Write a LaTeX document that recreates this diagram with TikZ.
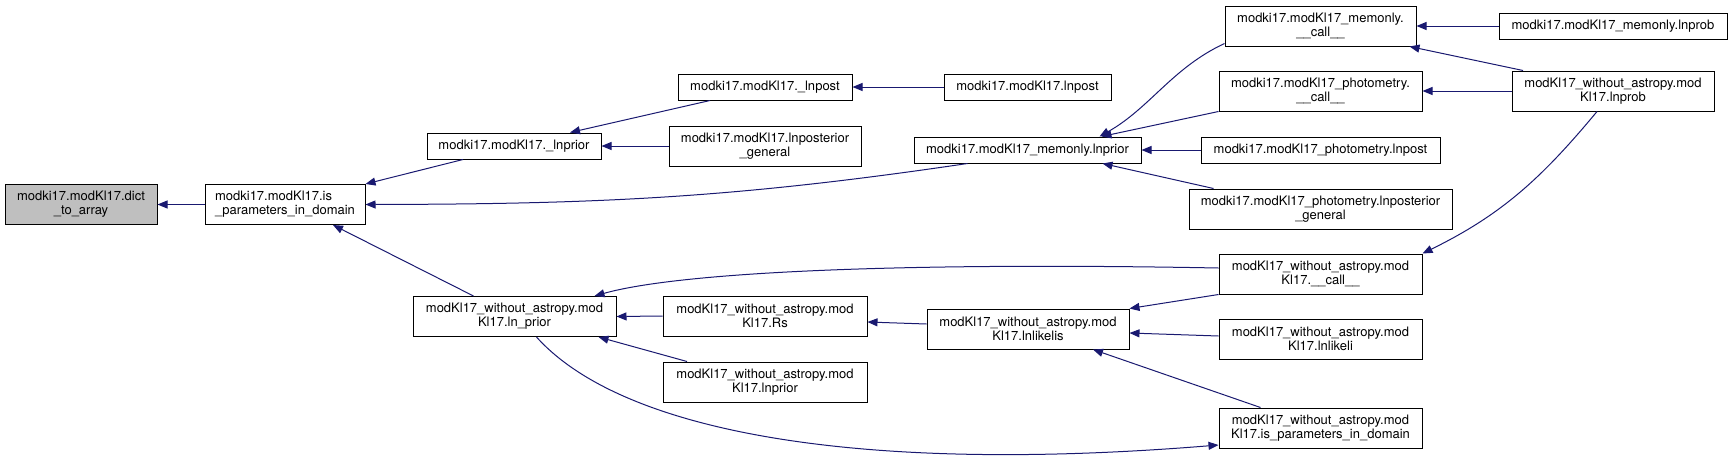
\documentclass[tikz,border=0pt]{standalone}
\usepackage{fontspec}
\setmainfont{TeX Gyre Heros}
\usepackage{tikz}
\usetikzlibrary{arrows.meta}
\usepackage{xcolor}
\definecolor{edgeblue}{HTML}{191970}
\definecolor{boxgray}{HTML}{BFBFBF}
\tikzset{
  fn/.style={draw=black, line width=1pt, inner sep=0pt, align=center,
    font=\fontsize{13}{14}\selectfont},
  fnone/.style={fn, minimum height=26pt},
  fntwo/.style={fn, minimum height=40pt},
  call/.style={draw=edgeblue, line width=1pt,
    -{Triangle[length=10pt,width=8pt]}}
}
\begin{document}
\begin{tikzpicture}[x=1pt,y=-1pt]
          \useasboundingbox (0,0) rectangle (1732,464);

          \node[fntwo, fill=boxgray, minimum width=152pt] (dict) at (81,204.5) {modki17.modKl17.dict\\\_to\_array};
          \node[fntwo, minimum width=160pt, align=left] (ispar) at (285,204.5) {modki17.modKl17.is\\\_parameters\_in\_domain};

          \node[fnone, minimum width=174pt] (lnpriorU) at (514,146) {modki17.modKl17.\_lnprior};
          \node[fntwo, minimum width=203pt] (lnprior) at (514.5,316.5) {modKl17\_without\_astropy.mod\\Kl17.ln\_prior};

          \node[fnone, minimum width=174pt] (lnpostU) at (765,87) {modki17.modKl17.\_lnpost};
          \node[fntwo, minimum width=192pt] (lnpostgen) at (765,146) {modki17.modKl17.lnposterior\\\_general};
          \node[fntwo, minimum width=204pt] (Rs) at (765,316) {modKl17\_without\_astropy.mod\\Kl17.Rs};
          \node[fntwo, minimum width=204pt] (wlnprior) at (765,382) {modKl17\_without\_astropy.mod\\Kl17.lnprior};

          \node[fnone, minimum width=167pt] (lnpost) at (1027.5,87) {modki17.modKl17.lnpost};
          \node[fnone, minimum width=227pt] (memlnprior) at (1027.5,150) {modki17.modKl17\_memonly.lnprior};
          \node[fntwo, minimum width=202pt] (lnlikelis) at (1028,329) {modKl17\_without\_astropy.mod\\Kl17.lnlikelis};

          \node[fntwo, minimum width=191pt] (memcall) at (1320.5,26) {modki17.modKl17\_memonly.\\\_\_call\_\_};
          \node[fntwo, minimum width=203pt] (photcall) at (1320.5,91) {modki17.modKl17\_photometry.\\\_\_call\_\_};
          \node[fnone, minimum width=239pt] (photlnpost) at (1320.5,150) {modki17.modKl17\_photometry.lnpost};
          \node[fntwo, minimum width=263pt] (photgen) at (1320.5,209) {modki17.modKl17\_photometry.lnposterior\\\_general};
          \node[fntwo, minimum width=203pt] (wcall) at (1320.5,274) {modKl17\_without\_astropy.mod\\Kl17.\_\_call\_\_};
          \node[fntwo, minimum width=203pt] (wlnlikeli) at (1320.5,339) {modKl17\_without\_astropy.mod\\Kl17.lnlikeli};
          \node[fntwo, minimum width=203pt] (wispar) at (1320.5,428) {modKl17\_without\_astropy.mod\\Kl17.is\_parameters\_in\_domain};

          \node[fnone, minimum width=228pt] (memlnprob) at (1613,26) {modki17.modKl17\_memonly.lnprob};
          \node[fntwo, minimum width=202pt] (wlnprob) at (1613,91) {modKl17\_without\_astropy.mod\\Kl17.lnprob};

          \draw[call] (ispar.west) -- (dict.east);
          \draw[call] ([xshift=-51pt]lnpriorU.south) -- (ispar.north east);
          \draw[call] ([xshift=-60pt]memlnprior.south) .. controls (734,198) and (601,204) .. (ispar.east);
          \draw[call] ([xshift=-41pt]lnprior.north) -- ([xshift=48pt]ispar.south);

          \draw[call] ([xshift=-55pt]lnpostU.south) -- ([xshift=56pt]lnpriorU.north);
          \draw[call] (lnpostgen.west) -- (lnpriorU.east);
          \draw[call] (lnpost.west) -- (lnpostU.east);

          \draw[call] ([yshift=3pt]memcall.south west) .. controls (1172,68) and (1150,108) .. ([xshift=72pt]memlnprior.north);
          \draw[call] (photcall.south west) -- ([xshift=74pt]memlnprior.north);
          \draw[call] (photlnpost.west) -- (memlnprior.east);
          \draw[call] ([xshift=-107pt]photgen.north) -- ([xshift=75pt]memlnprior.south);

          \draw[call] (memlnprob.west) -- (memcall.east);
          \draw[call] ([xshift=-90pt]wlnprob.north) -- ([xshift=89pt]memcall.south);
          \draw[call] (wlnprob.west) -- (photcall.east);
          \draw[call] ([xshift=-16pt]wlnprob.south) .. controls (1541,179) and (1501,215) .. (wcall.north east);

          \draw[call] ([yshift=6pt]wcall.west) .. controls (900,262) and (680,272) .. ([xshift=80pt]lnprior.north);
          \draw[call] (Rs.west) -- (lnprior.east);
          \draw[call] ([xshift=-78pt]wlnprior.north) -- ([xshift=84pt]lnprior.south);
          \draw[call] ([xshift=22pt]lnprior.south) .. controls (620,430) and (850,475) .. ([yshift=-17pt]wispar.west);

          \draw[call] ([yshift=5pt]lnlikelis.west) -- ([yshift=-6pt]Rs.east);
          \draw[call] (wcall.south west) -- (lnlikelis.north east);
          \draw[call] ([yshift=3pt]wlnlikeli.west) -- ([yshift=-4pt]lnlikelis.east);
          \draw[call] ([xshift=-60pt]wispar.north) -- ([xshift=65pt]lnlikelis.south);

        \end{tikzpicture}
\end{document}
